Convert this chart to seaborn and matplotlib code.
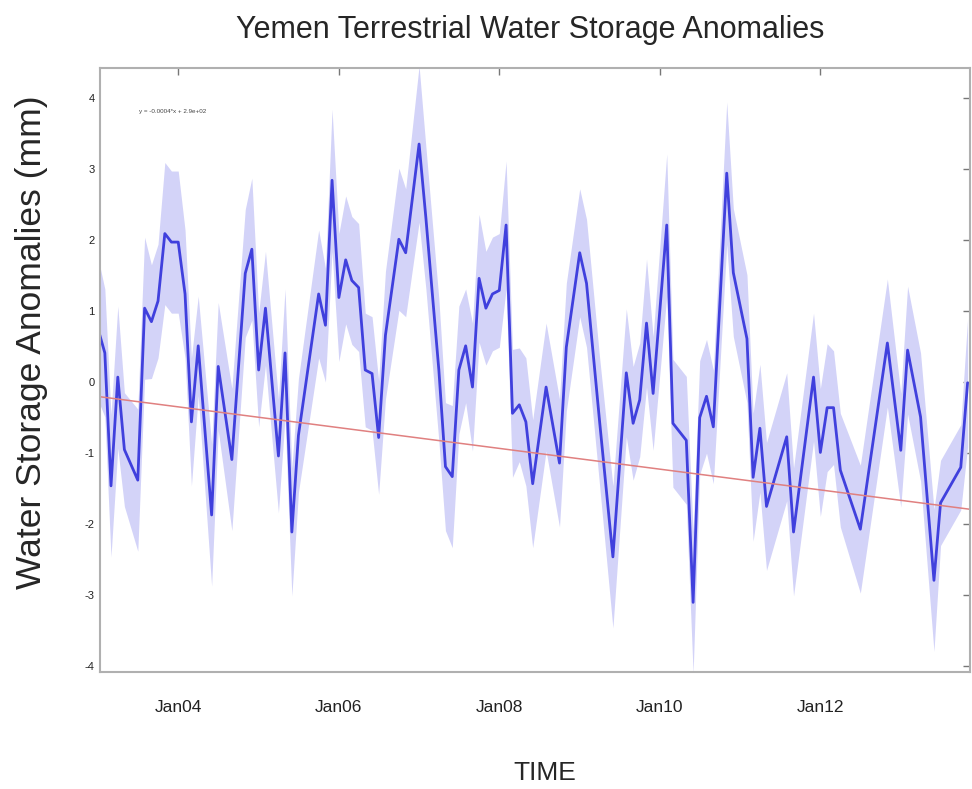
import pandas as pd
import numpy as np
import matplotlib.pyplot as plt
import matplotlib.dates as mdates
import seaborn as sns

# GRACE TWS anomalies, Yemen (mm) - monthly, gaps where no solution
dates = ['2003-01', '2003-02', '2003-03', '2003-04', '2003-05', '2003-07', '2003-08', '2003-09', '2003-10', '2003-11', '2003-12',
         '2004-01', '2004-02', '2004-03', '2004-04', '2004-06', '2004-07', '2004-09', '2004-11', '2004-12',
         '2005-01', '2005-02', '2005-04', '2005-05', '2005-06', '2005-07', '2005-10', '2005-11', '2005-12',
         '2006-01', '2006-02', '2006-03', '2006-04', '2006-05', '2006-06', '2006-07', '2006-08', '2006-10', '2006-11',
         '2007-01', '2007-02', '2007-03', '2007-04', '2007-05', '2007-06', '2007-07', '2007-08', '2007-09', '2007-10', '2007-11', '2007-12',
         '2008-01', '2008-02', '2008-03', '2008-04', '2008-05', '2008-06', '2008-08', '2008-10', '2008-11',
         '2009-01', '2009-02', '2009-04', '2009-06', '2009-08', '2009-09', '2009-10', '2009-11', '2009-12',
         '2010-02', '2010-03', '2010-05', '2010-06', '2010-07', '2010-08', '2010-09', '2010-11', '2010-12',
         '2011-02', '2011-03', '2011-04', '2011-05', '2011-08', '2011-09', '2011-12',
         '2012-01', '2012-02', '2012-03', '2012-04', '2012-07', '2012-11',
         '2013-01', '2013-02', '2013-04', '2013-06', '2013-07', '2013-10', '2013-11']
tws = [0.75, 0.41, -1.46, 0.07, -0.95, -1.38, 1.04, 0.85, 1.14, 2.09, 1.97,
       1.97, 1.24, -0.56, 0.51, -1.87, 0.22, -1.09, 1.53, 1.87,
       0.17, 1.04, -1.04, 0.41, -2.11, -0.75, 1.24, 0.80, 2.84,
       1.19, 1.72, 1.43, 1.33, 0.17, 0.12, -0.78, 0.66, 2.01, 1.82,
       3.35, 2.31, 1.29, 0.17, -1.19, -1.33, 0.17, 0.51, -0.07, 1.46, 1.04, 1.24,
       1.29, 2.21, -0.44, -0.32, -0.56, -1.43, -0.07, -1.14, 0.49,
       1.82, 1.39, -0.54, -2.46, 0.13, -0.58, -0.25, 0.83, -0.16,
       2.21, -0.58, -0.82, -3.10, -0.50, -0.20, -0.63, 2.94, 1.54,
       0.61, -1.34, -0.65, -1.75, -0.77, -2.11, 0.07,
       -0.99, -0.36, -0.36, -1.24, -2.07, 0.55,
       -0.96, 0.45, -0.49, -2.79, -1.70, -1.20, -0.01]
tws_err = [1.0, 0.9, 1.0, 1.0, 0.8, 1.0, 1.0, 0.8, 0.8, 1.0, 1.0,
           1.0, 0.9, 0.9, 0.7, 1.0, 0.9, 1.0, 0.9, 1.0,
           0.8, 0.8, 0.8, 0.9, 0.9, 0.8, 0.9, 0.8, 1.0,
           0.9, 0.9, 0.9, 0.9, 0.8, 0.8, 0.8, 0.9, 1.0, 0.9,
           1.1, 1.0, 1.0, 1.0, 0.9, 1.0, 0.9, 0.8, 0.9, 0.9, 0.8, 0.8,
           0.8, 0.9, 0.9, 0.8, 0.9, 0.9, 0.9, 0.9, 0.9,
           0.9, 0.9, 0.9, 1.0, 0.9, 0.8, 0.8, 0.9, 0.8,
           1.0, 0.9, 0.9, 1.0, 0.8, 0.8, 0.8, 1.0, 0.9,
           0.9, 0.9, 0.9, 0.9, 0.9, 0.9, 0.9,
           0.9, 0.9, 0.8, 0.8, 0.9, 0.9,
           0.8, 0.9, 0.9, 1.0, 0.6, 0.6, 0.9]

# linear trend as printed on the plot (x = matlab datenum)
trend_slope = -0.0004
trend_intercept = 292.43
trend_label = 'y = -0.0004*x + 2.9e+02'
x_start, x_end = '2003-01-10', '2013-11-12'

df = pd.DataFrame({'date': pd.to_datetime(dates), 'tws': tws, 'err': tws_err})
df['lo'] = df['tws'] - df['err']
df['hi'] = df['tws'] + df['err']

tr_dates = pd.to_datetime([x_start, x_end])
tr_y = trend_slope * (mdates.date2num(tr_dates) + 719529) + trend_intercept

sns.set_style('white')
plt.rcParams['font.family'] = ['Liberation Sans', 'DejaVu Sans']
plt.rcParams['axes.unicode_minus'] = False

fig = plt.figure(figsize=(9.72, 7.89), dpi=100)
ax = fig.add_axes([100/972, 1-672/789, 870/972, 604/789])

ax.fill_between(df['date'], df['lo'], df['hi'], color='#d3d3f8', lw=0)
sns.lineplot(data=df, x='date', y='tws', ax=ax, color='#4040dd', lw=2.0)
sns.lineplot(x=tr_dates, y=tr_y, ax=ax, color='#e08080', lw=1.1)

ax.set_xlim(pd.Timestamp(x_start), pd.Timestamp(x_end))
ax.set_ylim(-4.08, 4.42)
ax.set_yticks(range(-4, 5))
ax.xaxis.set_major_locator(mdates.YearLocator(2))
ax.xaxis.set_major_formatter(mdates.DateFormatter('Jan%y'))
ax.set_xlabel('')
ax.set_ylabel('')

ax.tick_params(direction='in', top=True, right=True, length=5, width=1, color='#777777')
ax.tick_params(axis='x', labelsize=12.5, pad=20, labelcolor='#222222')
ax.tick_params(axis='y', labelsize=8, pad=4, labelcolor='#222222')
for s in ax.spines.values():
    s.set_color('#b0b0b0')
    s.set_linewidth(1.5)

ax.text(0.045, 0.925, trend_label, transform=ax.transAxes, fontsize=4.5, color='#444444')

fig.text(530/972, 1-30/789, 'Yemen Terrestrial Water Storage Anomalies', ha='center', va='center', fontsize=22)
fig.text(32/972, 1-342/789, 'Water Storage Anomalies (mm)', rotation=90, ha='center', va='center', fontsize=25.5)
fig.text(545/972, 1-773/789, 'TIME', ha='center', va='center', fontsize=19)

fig.savefig('out.png', dpi=100)
